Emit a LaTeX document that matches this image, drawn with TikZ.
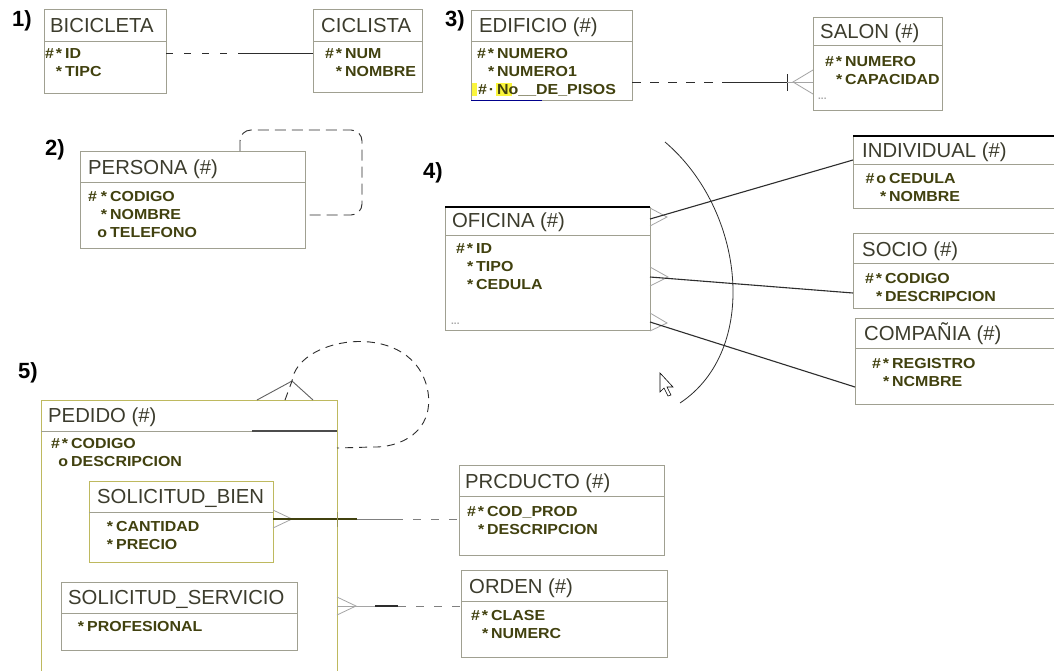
\documentclass[tikz,border=0pt]{standalone}
\usepackage{fontspec}
\setmainfont{Liberation Sans}
\newfontfamily\attrfamily[FakeStretch=1.1]{Liberation Sans}
\definecolor{boxline}{RGB}{160,160,145}
\definecolor{boxolive}{RGB}{190,185,95}
\definecolor{titlecol}{RGB}{60,60,45}
\definecolor{attrcol}{RGB}{65,65,15}
\definecolor{relcol}{RGB}{45,45,45}
\definecolor{footcol}{RGB}{165,165,165}
\definecolor{markyellow}{RGB}{250,245,60}
\newcommand{\att}[2]{\makebox[17pt][r]{#1}\hspace{3pt}#2}

\begin{document}
\begin{tikzpicture}[x=1pt, y=-1pt,
    entity/.style={draw=boxline, line width=0.9pt, anchor=north west, inner sep=0pt, outer sep=0pt},
    title/.style={anchor=west, inner sep=0pt, text=titlecol, text height=14.5pt, text depth=0pt, font=\fontsize{20.3}{22}\selectfont},
    attr/.style={anchor=west, inner sep=0pt, text=attrcol, text height=10pt, text depth=0pt, font=\attrfamily\bfseries\fontsize{14.5}{18}\selectfont},
    more/.style={anchor=west, inner sep=0pt, text=footcol, font=\bfseries\fontsize{10}{12}\selectfont},
    num/.style={inner sep=0pt, font=\bfseries\fontsize{22}{24}\selectfont},
    divider/.style={draw=boxline, line width=0.9pt},
    rel/.style={draw=relcol, line width=0.9pt},
    reldash/.style={rel, dash pattern=on 7pt off 11pt},
    foot/.style={draw=footcol, line width=0.8pt}
]
    \useasboundingbox[fill=white] (0,0) rectangle (1054,670);

    % 1) bicicleta - ciclista
    \node[num] (n1) at (22,21) {1)};
    \node[entity, minimum width=122pt, minimum height=84pt] (bicicleta) at (44,9) {};
    \draw[divider] (bicicleta.west |- 0,41) -- (bicicleta.east |- 0,41);
    \node[title] (bicicletaT) at (50,25) {BICICLETA};
    \foreach \p/\n [count=\i] in {\#\hspace{2pt}*/ID, */TIPC}
        \node[attr] (bicicleta\i) at (45,{53+18*(\i-1)}) {\att{\p}{\n}};

    \node[entity, minimum width=109pt, minimum height=83pt] (ciclista) at (313,9) {};
    \draw[divider] (ciclista.west |- 0,41) -- (ciclista.east |- 0,41);
    \node[title] (ciclistaT) at (321,25) {CICLISTA};
    \foreach \p/\n [count=\i] in {\#\hspace{2pt}*/NUM, */NOMBRE}
        \node[attr] (ciclista\i) at (325,{53+18*(\i-1)}) {\att{\p}{\n}};

    \coordinate (m1) at (245,53);
    \draw[reldash, dash pattern=on 7pt off 11pt] (bicicleta.east |- 0,53) -- (m1);
    \draw[rel] (m1) -- (ciclista.west |- 0,53);

    % 3) edificio - salon
    \node[num] (n3) at (455,21) {3)};
    \node[entity, minimum width=161pt, minimum height=90pt] (edificio) at (471,10) {};
    \draw[divider] (edificio.west |- 0,41) -- (edificio.east |- 0,41);
    \fill[markyellow] (472,83) rectangle (477,96);
    \fill[markyellow] (496,83) rectangle (512,96);
    \draw[blue!55!black, line width=0.8pt] (471,100) -- (542,100);
    \node[title] (edificioT) at (479,25) {EDIFICIO (\#)};
    \foreach \p/\n [count=\i] in {\#\hspace{2pt}*/NUMERO, */NUMERO1, \#\hspace{2pt}·/No\_\_DE\_PISOS}
        \node[attr] (edificio\i) at (477,{53+18*(\i-1)}) {\att{\p}{\n}};

    \node[entity, minimum width=129pt, minimum height=93pt] (salon) at (813,17) {};
    \draw[divider] (salon.west |- 0,45) -- (salon.east |- 0,45);
    \node[title] (salonT) at (820,31) {SALON (\#)};
    \foreach \p/\n [count=\i] in {\#\hspace{2pt}*/NUMERO, */CAPACIDAD}
        \node[attr] (salon\i) at (825,{61+18*(\i-1)}) {\att{\p}{\n}};
    \node[more] (salonM) at (818,99) {...};

    \coordinate (m3) at (726,82);
    \coordinate (bar3) at (787,82);
    \draw[reldash, dash pattern=on 9pt off 9pt] (edificio.east |- 0,82) -- (m3);
    \draw[rel] (m3) -- (bar3);
    \draw[rel] (787,74) -- (787,91);
    \draw[foot] (salon.west |- 0,70) -- (793,82) -- (salon.west |- 0,94);
    \draw[foot] (bar3) -- (salon.west |- 0,82);

    % 2) persona (recursiva)
    \node[num] (n2) at (55,150) {2)};
    \node[entity, minimum width=225pt, minimum height=97pt] (persona) at (80,151) {};
    \draw[divider] (persona.west |- 0,182) -- (persona.east |- 0,182);
    \node[title] (personaT) at (88,167) {PERSONA (\#)};
    \foreach \p/\n [count=\i] in {\#\hspace{4pt}*/CODIGO, */NOMBRE, o/TELEFONO}
        \node[attr] (persona\i) at (90,{196+18*(\i-1)}) {\att{\p}{\n}};
    \draw[reldash, dash pattern=on 11pt off 6pt, rounded corners=11pt]
        (240,0 |- persona.north) -- (240,130) -- (362,130) -- (362,215) -- (persona.east |- 0,215);

    % 4) oficina - subtipos
    \node[num] (n4) at (433,173) {4)};
    \node[entity, minimum width=205pt, minimum height=123pt] (oficina) at (445,207) {};
    \draw[black, line width=1.5pt] (oficina.north west) -- (oficina.north east);
    \draw[divider] (oficina.west |- 0,235) -- (oficina.east |- 0,235);
    \node[title] (oficinaT) at (452,220) {OFICINA (\#)};
    \foreach \p/\n [count=\i] in {\#\hspace{2pt}*/ID, */TIPO, */CEDULA}
        \node[attr] (oficina\i) at (456,{248+18*(\i-1)}) {\att{\p}{\n}};
    \node[more] (oficinaM) at (451,324) {...};

    \node[entity, minimum width=207pt, minimum height=72pt] (individual) at (853,136) {};
    \draw[black, line width=1.5pt] (individual.north west) -- (individual.north east);
    \draw[divider] (individual.west |- 0,164) -- (individual.east |- 0,164);
    \node[title] (individualT) at (862,150) {INDIVIDUAL (\#)};
    \foreach \p/\n [count=\i] in {\#\hspace{2pt}o/CEDULA, */NOMBRE}
        \node[attr] (individual\i) at (869,{178+18*(\i-1)}) {\att{\p}{\n}};

    \node[entity, minimum width=207pt, minimum height=75pt] (socio) at (853,233) {};
    \draw[divider] (socio.west |- 0,263) -- (socio.east |- 0,263);
    \node[title] (socioT) at (862,249) {SOCIO (\#)};
    \foreach \p/\n [count=\i] in {\#\hspace{2pt}*/CODIGO, */DESCRIPCION}
        \node[attr] (socio\i) at (865,{278+18*(\i-1)}) {\att{\p}{\n}};

    \node[entity, minimum width=205pt, minimum height=86pt] (compania) at (855,318) {};
    \draw[divider] (compania.west |- 0,348) -- (compania.east |- 0,348);
    \node[title] (companiaT) at (864,333) {COMPAÑIA (\#)};
    \foreach \p/\n [count=\i] in {\#\hspace{2pt}*/REGISTRO, */NCMBRE}
        \node[attr] (compania\i) at (872,{363+18*(\i-1)}) {\att{\p}{\n}};

    \draw[foot] (oficina.east |- 0,208) -- (667,217) -- (oficina.east |- 0,226);
    \draw[foot] (oficina.east |- 0,267) -- (668,277) -- (oficina.east |- 0,286);
    \draw[foot] (oficina.east |- 0,313) -- (667,323) -- (oficina.east |- 0,331);
    \draw[rel, line width=1.1pt] (oficina.east |- 0,219) -- (individual.west |- 0,160);
    \draw[rel, line width=1.1pt] (oficina.east |- 0,277) -- (socio.west |- 0,293);
    \draw[rel, line width=1.1pt] (oficina.east |- 0,322) -- (compania.west |- 0,387);
    \draw[rel, line width=0.8pt] (665,142) .. controls (745,210) and (760,350) .. (680,403);
    \draw[black, line width=0.6pt, fill=white] (660,373) -- (660,392) -- (664,388) -- (668,396)
        -- (671,395) -- (667,387) -- (673,387) -- cycle;

    % 5) pedido con subtipos
    \node[num] (n5) at (28,373) {5)};
    \node[entity, draw=boxolive, minimum width=296pt, minimum height=280pt] (pedido) at (41,400) {};
    \draw[divider] (pedido.west |- 0,431) -- (pedido.east |- 0,431);
    \draw[relcol!85, line width=1.6pt] (252,431) -- (pedido.east |- 0,431);
    \node[title] (pedidoT) at (48,415) {PEDIDO (\#)};
    \foreach \p/\n [count=\i] in {\#\hspace{2pt}*/CODIGO, o/DESCRIPCION}
        \node[attr] (pedido\i) at (51,{443+18*(\i-1)}) {\att{\p}{\n}};

    \node[entity, draw=boxolive, minimum width=184pt, minimum height=81pt] (solbien) at (89,481) {};
    \draw[divider] (solbien.west |- 0,512) -- (solbien.east |- 0,512);
    \node[title] (solbienT) at (97,496) {SOLICITUD\_BIEN};
    \foreach \p/\n [count=\i] in {*/CANTIDAD, */PRECIO}
        \node[attr] (solbien\i) at (96,{526+18*(\i-1)}) {\att{\p}{\n}};

    \node[entity, minimum width=236pt, minimum height=68pt] (solserv) at (61,582) {};
    \draw[divider] (solserv.west |- 0,613) -- (solserv.east |- 0,613);
    \node[title] (solservT) at (68,597) {SOLICITUD\_SERVICIO};
    \node[attr] (solserv1) at (67,626) {\att{*}{PROFESIONAL}};

    \node[entity, minimum width=205pt, minimum height=90pt] (producto) at (459,465) {};
    \draw[divider] (producto.west |- 0,496) -- (producto.east |- 0,496);
    \node[title] (productoT) at (465,481) {PRCDUCTO (\#)};
    \foreach \p/\n [count=\i] in {\#\hspace{2pt}*/COD\_PROD, */DESCRIPCION}
        \node[attr] (producto\i) at (467,{511+18*(\i-1)}) {\att{\p}{\n}};

    \node[entity, minimum width=206pt, minimum height=87pt] (orden) at (461,570) {};
    \draw[divider] (orden.west |- 0,601) -- (orden.east |- 0,601);
    \node[title] (ordenT) at (469,586) {ORDEN (\#)};
    \foreach \p/\n [count=\i] in {\#\hspace{2pt}*/CLASE, */NUMERC}
        \node[attr] (orden\i) at (471,{615+18*(\i-1)}) {\att{\p}{\n}};

    % relaciones de 5)
    \draw[draw=relcol!75, line width=0.9pt] (257,0 |- pedido.north) -- (292,381) -- (313,0 |- pedido.north);
    \draw[rel, dash pattern=on 8pt off 6pt] (285,0 |- pedido.north) -- (292,381)
        .. controls (298,335) and (415,318) .. (428,392)
        .. controls (434,432) and (400,448) .. (372,447) -- (pedido.east |- 0,448);

    \coordinate (mb) at (395,519);
    \draw[foot] (solbien.east |- 0,510) -- (292,519) -- (solbien.east |- 0,528);
    \draw[rel, draw=attrcol, line width=1.3pt] (solbien.east |- 0,519) -- (357,519);
    \draw[foot, draw=gray] (357,519) -- (mb);
    \draw[reldash, draw=gray, dash pattern=on 8pt off 10pt] (mb) -- (producto.west |- 0,519);
    \draw[boxolive!80!black, line width=1pt] (337,512) -- (337,527);

    \coordinate (ms) at (398,606);
    \draw[foot] (pedido.east |- 0,597) -- (356,606) -- (pedido.east |- 0,615);
    \draw[foot] (pedido.east |- 0,606) -- (375,606);
    \draw[rel, line width=1.3pt] (375,606) -- (ms);
    \draw[reldash, draw=gray, dash pattern=on 8pt off 10pt] (ms) -- (orden.west |- 0,606);
\end{tikzpicture}
\end{document}
